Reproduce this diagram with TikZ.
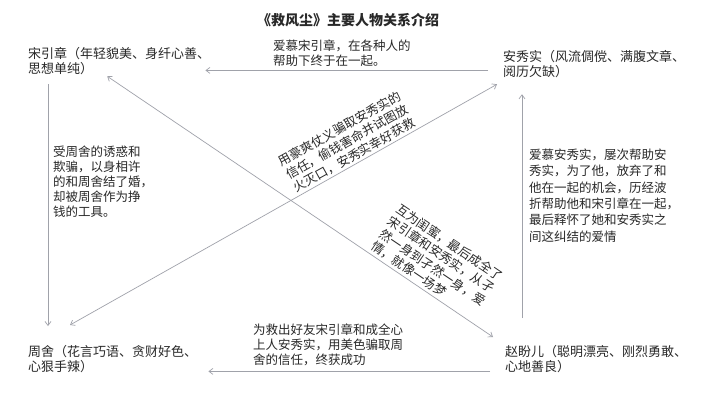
\documentclass[tikz,border=0pt]{standalone}
\usepackage{fontspec}
\setmainfont{Noto Sans CJK SC}
\usetikzlibrary{arrows.meta}

\definecolor{linegray}{RGB}{160,162,170}
\definecolor{textgray}{RGB}{40,40,40}

\tikzset{
  person/.style={anchor=north west,inner sep=0pt,align=left,text=textgray,
    font=\fontsize{13}{15}\selectfont},
  note/.style={person,font=\fontsize{12.5}{15}\selectfont},
  slant/.style={inner sep=0pt,align=left,text=textgray,
    font=\fontsize{12.5}{15}\selectfont},
  rel/.style={draw=linegray,line width=0.7pt,-{Straight Barb[length=4pt,width=6pt]}},
  mutual/.style={rel,{Straight Barb[length=4pt,width=6pt]}-{Straight Barb[length=4pt,width=6pt]}}
}

\begin{document}
\begin{tikzpicture}[x=1pt,y=-1pt]
        \useasboundingbox[fill=white](0,0) rectangle (710,400);
        %% title
        \node[text=textgray,font=\fontsize{14}{16}\selectfont\bfseries] (title) at (348,20)
          {《救风尘》主要人物关系介绍};
        %% the four persons
        \node[person] (songyz) at (28,47.5) {宋引章（年轻貌美、身纤心善、\\思想单纯）};
        \node[person] (anxiu) at (503,50.5) {安秀实（风流倜傥、满腹文章、\\阅历欠缺）};
        \node[person] (zhoushe) at (28,345.5) {周舍（花言巧语、贪财好色、\\心狠手辣）};
        \node[person] (zhaopan) at (505,345.5) {赵盼儿（聪明漂亮、刚烈勇敢、\\心地善良）};

        %% the relations
        \draw[rel] ([shift={(-15,6)}]anxiu.west) -- ([shift={(-5,9)}]songyz.east);
        \draw[rel] ([shift={(20,9)}]songyz.south west) -- ([shift={(20,-19.5)}]zhoushe.north west);
        \draw[rel] ([shift={(17,-27.5)}]zhaopan.north west) -- ([shift={(19,16)}]anxiu.south west);
        \draw[rel] ([shift={(-15,12)}]zhaopan.west) -- ([shift={(11,12)}]zhoushe.east);
        \draw[mutual] ([shift={(42,-20.5)}]zhoushe.north west) -- ([shift={(-6,6)}]anxiu.south west);
        \draw[mutual] ([shift={(-12,1)}]songyz.south) -- ([shift={(-12,-8.5)}]zhaopan.north west);

        %% the texts along the relations
        \node[note] (lbltop) at (273,39.5) {爱慕宋引章，在各种人的\\帮助下终于在一起。};
        \node[note] (lblleft) at (53,145.5) {受周舍的诱惑和\\欺骗，以身相许\\的和周舍结了婚，\\却被周舍作为挣\\钱的工具。};
        \node[note,font=\fontsize{12.5}{16.4}\selectfont] (lblright) at (529,148.5)
          {爱慕安秀实，屡次帮助安\\秀实，为了他，放弃了和\\他在一起的机会，历经波\\折帮助他和宋引章在一起，\\最后释怀了她和安秀实之\\间这纠结的爱情};
        \node[note] (lblbottom) at (253,323.5) {为救出好友宋引章和成全心\\上人安秀实，用美色骗取周\\舍的信任，终获成功};
        \node[slant,rotate=29] (lbldiaga) at (347,142)
          {用豪爽仗义骗取安秀实的\\信任，偷钱害命并试图放\\火灭口，安秀实幸好获救};
        \node[slant,rotate=-34] (lbldiagb) at (437,261)
          {互为闺蜜，最后成全了\\宋引章和安秀实，从孑\\然一身到孑然一身，爱\\情，就像一场梦};
\end{tikzpicture}
\end{document}
